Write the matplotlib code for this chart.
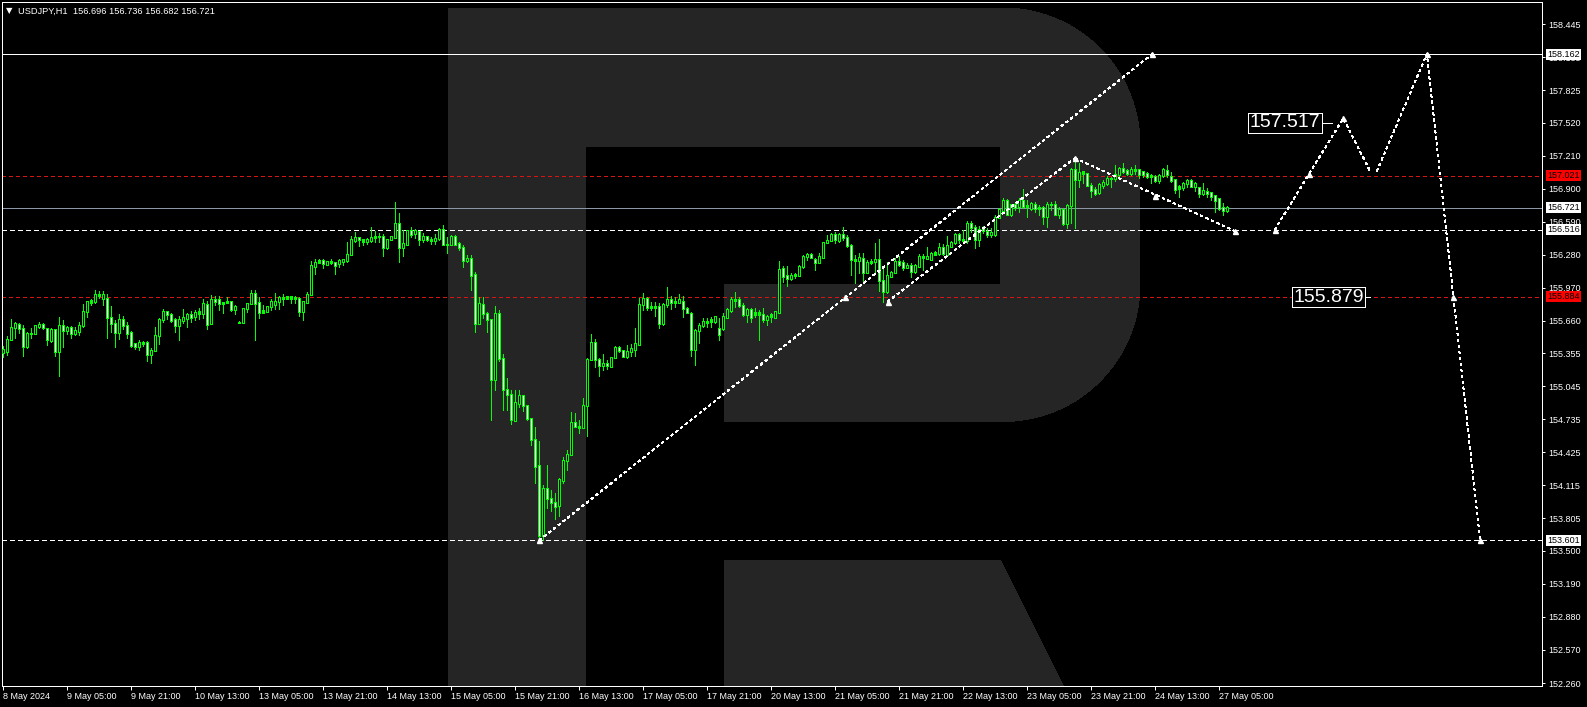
import matplotlib
matplotlib.use("Agg")
import matplotlib.pyplot as plt
import matplotlib.transforms as mtransforms
from matplotlib import font_manager
from matplotlib.patches import Polygon
import numpy as np

# USDJPY H1 candles, 8 May 13:00 .. 27 May 08:00
opens = [
    155.360, 155.370, 155.485, 155.595, 155.626, 155.589, 155.417, 155.542, 155.542, 155.604,
    155.629, 155.589, 155.479, 155.579, 155.370, 155.620, 155.567, 155.592, 155.536, 155.557,
    155.614, 155.745, 155.830, 155.836, 155.911, 155.870, 155.870, 155.692, 155.636, 155.548,
    155.676, 155.620, 155.554, 155.442, 155.417, 155.460, 155.460, 155.345, 155.379, 155.523,
    155.673, 155.748, 155.723, 155.667, 155.614, 155.661, 155.679, 155.714, 155.698, 155.729,
    155.729, 155.817, 155.636, 155.864, 155.855, 155.823, 155.833, 155.845, 155.767, 155.642,
    155.645, 155.773, 155.820, 155.917, 155.833, 155.736, 155.748, 155.792, 155.817, 155.836,
    155.870, 155.886, 155.870, 155.880, 155.870, 155.745, 155.833, 155.905, 156.167, 156.205,
    156.221, 156.192, 156.214, 156.205, 156.199, 156.217, 156.224, 156.283, 156.411, 156.443,
    156.418, 156.402, 156.411, 156.440, 156.455, 156.455, 156.346, 156.424, 156.440, 156.574,
    156.349, 156.380, 156.505, 156.480, 156.499, 156.424, 156.449, 156.424, 156.411, 156.430,
    156.518, 156.377, 156.377, 156.455, 156.386, 156.349, 156.224, 156.246, 156.096, 155.636,
    155.814, 155.729, 155.667, 155.110, 155.729, 155.307, 155.016, 154.972, 154.728, 154.885,
    154.963, 154.860, 154.744, 154.547, 154.297, 153.643, 154.087, 153.993, 153.956, 153.924,
    154.165, 154.347, 154.400, 154.707, 154.672, 154.660, 154.869, 155.298, 155.457, 155.292,
    155.238, 155.260, 155.235, 155.317, 155.410, 155.379, 155.323, 155.376, 155.392, 155.439,
    155.808, 155.870, 155.786, 155.798, 155.798, 155.636, 155.808, 155.855, 155.839, 155.833,
    155.839, 155.776, 155.729, 155.392, 155.567, 155.620, 155.657, 155.657, 155.657, 155.589,
    155.589, 155.692, 155.754, 155.864, 155.864, 155.807, 155.714, 155.761, 155.723, 155.735,
    155.723, 155.673, 155.698, 155.689, 155.735, 156.151, 156.080, 156.058, 156.080, 156.089,
    156.167, 156.261, 156.283, 156.236, 156.205, 156.255, 156.392, 156.417, 156.471, 156.417,
    156.471, 156.443, 156.364, 156.239, 156.230, 156.245, 156.114, 156.205, 156.214, 156.239,
    156.042, 155.933, 156.073, 156.111, 156.220, 156.208, 156.161, 156.183, 156.120, 156.173,
    156.267, 156.245, 156.239, 156.286, 156.292, 156.349, 156.286, 156.361, 156.392, 156.471,
    156.427, 156.411, 156.574, 156.537, 156.424, 156.528, 156.496, 156.465, 156.465, 156.631,
    156.693, 156.793, 156.653, 156.747, 156.731, 156.793, 156.731, 156.715, 156.753, 156.725,
    156.722, 156.637, 156.753, 156.753, 156.653, 156.706, 156.574, 156.740, 157.081, 156.981,
    157.044, 157.044, 156.934, 156.894, 156.862, 156.934, 156.950, 156.997, 156.991, 157.037,
    157.091, 157.069, 157.044, 157.075, 157.075, 157.059, 157.044, 157.025, 157.012, 156.975,
    157.019, 157.066, 157.012, 156.981, 156.903, 156.912, 156.950, 156.975, 156.919, 156.909,
    156.856, 156.872, 156.862, 156.831, 156.803, 156.725, 156.696,
]
highs = [
    155.423, 155.517, 155.673, 155.651, 155.642, 155.620, 155.557, 155.589, 155.620, 155.645,
    155.642, 155.595, 155.589, 155.579, 155.698, 155.667, 155.611, 155.611, 155.604, 155.651,
    155.817, 155.845, 155.867, 155.949, 155.939, 155.939, 155.911, 155.798, 155.667, 155.723,
    155.704, 155.651, 155.567, 155.454, 155.479, 155.470, 155.470, 155.401, 155.604, 155.682,
    155.770, 155.754, 155.736, 155.682, 155.704, 155.773, 155.733, 155.754, 155.761, 155.776,
    155.864, 155.848, 155.902, 155.892, 155.889, 155.833, 155.880, 155.845, 155.808, 155.658,
    155.783, 155.830, 155.949, 155.949, 155.886, 155.808, 155.801, 155.864, 155.917, 155.892,
    155.908, 155.892, 155.892, 155.892, 155.880, 155.839, 155.927, 156.221, 156.236, 156.239,
    156.239, 156.224, 156.239, 156.214, 156.239, 156.239, 156.402, 156.455, 156.496, 156.449,
    156.424, 156.440, 156.537, 156.499, 156.487, 156.471, 156.430, 156.455, 156.774, 156.668,
    156.512, 156.512, 156.537, 156.518, 156.505, 156.480, 156.458, 156.449, 156.474, 156.527,
    156.559, 156.449, 156.465, 156.465, 156.396, 156.371, 156.277, 156.277, 156.120, 155.880,
    155.880, 155.745, 155.673, 155.798, 155.761, 155.348, 155.119, 155.010, 155.010, 155.010,
    154.963, 154.860, 154.744, 154.666, 154.534, 154.118, 154.306, 154.071, 154.040, 154.181,
    154.384, 154.447, 154.807, 154.797, 154.728, 154.932, 155.307, 155.536, 155.489, 155.313,
    155.348, 155.292, 155.323, 155.423, 155.423, 155.385, 155.432, 155.442, 155.589, 155.870,
    155.917, 155.886, 155.839, 155.839, 155.830, 155.823, 155.973, 155.892, 155.886, 155.911,
    155.892, 155.792, 155.745, 155.579, 155.636, 155.682, 155.682, 155.698, 155.704, 155.682,
    155.729, 155.776, 155.886, 155.933, 155.886, 155.823, 155.776, 155.776, 155.776, 155.761,
    155.776, 155.714, 155.729, 155.754, 156.223, 156.173, 156.173, 156.105, 156.111, 156.180,
    156.277, 156.299, 156.292, 156.245, 156.292, 156.402, 156.464, 156.480, 156.496, 156.486,
    156.536, 156.464, 156.377, 156.277, 156.292, 156.292, 156.230, 156.236, 156.392, 156.427,
    156.151, 156.214, 156.130, 156.245, 156.267, 156.230, 156.198, 156.198, 156.192, 156.286,
    156.286, 156.349, 156.308, 156.317, 156.386, 156.380, 156.458, 156.408, 156.480, 156.480,
    156.511, 156.600, 156.600, 156.559, 156.550, 156.550, 156.528, 156.528, 156.653, 156.715,
    156.809, 156.800, 156.756, 156.762, 156.809, 156.894, 156.793, 156.778, 156.778, 156.747,
    156.737, 156.778, 156.778, 156.787, 156.725, 156.715, 156.756, 157.091, 157.194, 157.138,
    157.069, 157.050, 156.956, 156.912, 156.950, 156.981, 157.019, 157.006, 157.122, 157.106,
    157.138, 157.084, 157.106, 157.122, 157.084, 157.069, 157.059, 157.037, 157.028, 157.037,
    157.091, 157.122, 157.059, 156.991, 156.934, 156.966, 156.987, 156.987, 156.966, 156.919,
    156.950, 156.903, 156.872, 156.840, 156.809, 156.768, 156.736,
]
lows = [
    155.323, 155.338, 155.479, 155.495, 155.542, 155.332, 155.401, 155.495, 155.536, 155.589,
    155.586, 155.432, 155.464, 155.329, 155.144, 155.417, 155.536, 155.501, 155.526, 155.526,
    155.604, 155.698, 155.808, 155.823, 155.870, 155.808, 155.501, 155.557, 155.417, 155.489,
    155.579, 155.501, 155.410, 155.398, 155.385, 155.426, 155.285, 155.260, 155.373, 155.442,
    155.651, 155.673, 155.651, 155.557, 155.479, 155.642, 155.604, 155.651, 155.667, 155.673,
    155.682, 155.586, 155.626, 155.808, 155.761, 155.736, 155.823, 155.754, 155.723, 155.636,
    155.642, 155.742, 155.814, 155.479, 155.686, 155.729, 155.742, 155.761, 155.770, 155.767,
    155.808, 155.861, 155.830, 155.830, 155.704, 155.667, 155.830, 155.898, 156.099, 156.199,
    156.155, 156.183, 156.192, 156.099, 156.161, 156.180, 156.214, 156.277, 156.402, 156.365,
    156.371, 156.380, 156.402, 156.402, 156.402, 156.268, 156.330, 156.418, 156.440, 156.214,
    156.268, 156.371, 156.449, 156.433, 156.371, 156.402, 156.411, 156.380, 156.380, 156.418,
    156.371, 156.293, 156.371, 156.371, 156.324, 156.167, 156.214, 155.949, 155.557, 155.626,
    155.682, 155.557, 154.728, 155.010, 155.285, 154.822, 154.822, 154.688, 154.728, 154.854,
    154.816, 154.728, 154.494, 154.140, 153.601, 153.601, 153.899, 153.877, 153.796, 153.827,
    154.134, 154.259, 154.400, 154.660, 154.603, 154.650, 154.578, 155.292, 155.223, 155.141,
    155.198, 155.204, 155.229, 155.307, 155.370, 155.317, 155.307, 155.332, 155.332, 155.432,
    155.761, 155.761, 155.761, 155.707, 155.589, 155.620, 155.792, 155.767, 155.792, 155.823,
    155.698, 155.729, 155.329, 155.245, 155.448, 155.604, 155.604, 155.598, 155.642, 155.479,
    155.573, 155.682, 155.745, 155.792, 155.792, 155.704, 155.651, 155.651, 155.698, 155.479,
    155.651, 155.620, 155.651, 155.682, 155.729, 156.026, 155.986, 156.042, 156.058, 156.080,
    156.151, 156.230, 156.245, 156.136, 156.198, 156.245, 156.386, 156.411, 156.386, 156.402,
    156.417, 156.355, 156.089, 156.017, 156.111, 156.026, 156.105, 156.192, 156.120, 155.942,
    155.833, 155.917, 156.067, 156.105, 156.173, 156.136, 156.151, 156.067, 156.111, 156.161,
    156.136, 156.236, 156.230, 156.277, 156.277, 156.277, 156.277, 156.355, 156.380, 156.386,
    156.402, 156.387, 156.496, 156.340, 156.365, 156.487, 156.449, 156.449, 156.456, 156.621,
    156.668, 156.653, 156.643, 156.700, 156.684, 156.715, 156.637, 156.700, 156.684, 156.653,
    156.568, 156.543, 156.700, 156.653, 156.621, 156.559, 156.528, 156.574, 156.534, 156.912,
    156.950, 156.925, 156.819, 156.840, 156.850, 156.903, 156.934, 156.912, 156.975, 157.019,
    157.050, 157.028, 157.028, 157.037, 156.997, 157.012, 156.997, 156.956, 156.966, 156.956,
    157.006, 157.012, 156.966, 156.856, 156.819, 156.887, 156.912, 156.912, 156.881, 156.819,
    156.840, 156.825, 156.793, 156.684, 156.700, 156.653, 156.682,
]
closes = [
    155.392, 155.485, 155.598, 155.636, 155.586, 155.417, 155.542, 155.536, 155.611, 155.626,
    155.595, 155.485, 155.579, 155.370, 155.620, 155.567, 155.595, 155.542, 155.564, 155.620,
    155.748, 155.836, 155.848, 155.911, 155.895, 155.911, 155.692, 155.636, 155.548, 155.676,
    155.614, 155.542, 155.432, 155.417, 155.457, 155.442, 155.345, 155.385, 155.523, 155.673,
    155.748, 155.720, 155.661, 155.614, 155.667, 155.686, 155.714, 155.695, 155.739, 155.745,
    155.823, 155.626, 155.864, 155.845, 155.823, 155.833, 155.845, 155.767, 155.792, 155.639,
    155.776, 155.823, 155.920, 155.823, 155.736, 155.754, 155.798, 155.836, 155.842, 155.877,
    155.880, 155.870, 155.886, 155.870, 155.745, 155.836, 155.908, 156.174, 156.211, 156.221,
    156.199, 156.214, 156.205, 156.183, 156.224, 156.236, 156.286, 156.418, 156.443, 156.418,
    156.402, 156.424, 156.443, 156.455, 156.449, 156.349, 156.424, 156.449, 156.574, 156.349,
    156.386, 156.505, 156.471, 156.505, 156.418, 156.455, 156.427, 156.411, 156.433, 156.518,
    156.377, 156.374, 156.455, 156.380, 156.349, 156.224, 156.246, 156.083, 155.636, 155.823,
    155.729, 155.667, 155.110, 155.729, 155.301, 155.016, 154.972, 154.735, 154.894, 154.963,
    154.869, 154.741, 154.547, 154.290, 153.643, 154.087, 153.993, 153.953, 153.915, 154.172,
    154.353, 154.409, 154.707, 154.666, 154.660, 154.869, 155.298, 155.457, 155.292, 155.238,
    155.260, 155.238, 155.317, 155.410, 155.379, 155.323, 155.370, 155.395, 155.442, 155.814,
    155.870, 155.786, 155.798, 155.786, 155.636, 155.814, 155.861, 155.833, 155.830, 155.855,
    155.776, 155.739, 155.392, 155.573, 155.620, 155.657, 155.642, 155.667, 155.698, 155.535,
    155.698, 155.761, 155.864, 155.854, 155.801, 155.714, 155.761, 155.689, 155.735, 155.723,
    155.673, 155.704, 155.714, 155.745, 156.142, 156.073, 156.058, 156.089, 156.098, 156.173,
    156.267, 156.283, 156.255, 156.205, 156.261, 156.392, 156.417, 156.471, 156.424, 156.471,
    156.443, 156.364, 156.236, 156.230, 156.255, 156.114, 156.208, 156.220, 156.239, 156.036,
    155.933, 156.083, 156.114, 156.220, 156.192, 156.158, 156.183, 156.120, 156.183, 156.267,
    156.255, 156.267, 156.292, 156.302, 156.349, 156.292, 156.367, 156.396, 156.471, 156.424,
    156.411, 156.574, 156.537, 156.418, 156.512, 156.506, 156.474, 156.487, 156.631, 156.700,
    156.793, 156.659, 156.747, 156.725, 156.793, 156.731, 156.737, 156.756, 156.715, 156.715,
    156.637, 156.753, 156.747, 156.659, 156.706, 156.574, 156.743, 157.081, 156.981, 157.050,
    157.059, 156.928, 156.881, 156.856, 156.941, 156.956, 156.997, 156.991, 157.037, 157.091,
    157.059, 157.044, 157.081, 157.066, 157.028, 157.028, 157.012, 157.012, 156.975, 157.022,
    157.075, 157.028, 156.975, 156.894, 156.919, 156.950, 156.975, 156.919, 156.950, 156.856,
    156.881, 156.850, 156.825, 156.793, 156.709, 156.693, 156.721,
]

date_labels = ["8 May 2024", "9 May 05:00", "9 May 21:00", "10 May 13:00", "13 May 05:00",
               "13 May 21:00", "14 May 13:00", "15 May 05:00", "15 May 21:00", "16 May 13:00",
               "17 May 05:00", "17 May 21:00", "20 May 13:00", "21 May 05:00", "21 May 21:00",
               "22 May 13:00", "23 May 05:00", "23 May 21:00", "24 May 13:00", "27 May 05:00"]
bars_per_label = 16

price_ticks = [158.445, 158.135, 157.825, 157.520, 157.210, 156.900, 156.590, 156.280,
               155.970, 155.660, 155.355, 155.045, 154.735, 154.425, 154.115, 153.805,
               153.500, 153.190, 152.880, 152.570, 152.260]

resistance = 158.162
pivot = 156.516
support = 153.601
red_levels = [157.021, 155.884]

# forecast drawing (bar index, price)
channel_up_x = [134.05, 287.2]
channel_up_y = [153.601, 158.162]
channel_lo_x = [221.1, 267.9]
channel_lo_y = [155.840, 157.187]
fc_a_x = [267.9, 308.0]
fc_a_y = [157.187, 156.500]
fc_b_x = [317.9, 335.0, 341.7]
fc_b_y = [156.516, 157.560, 157.065]
fc_c_x = [343.4, 355.9, 369.2]
fc_c_y = [157.065, 158.162, 153.601]
marker_x = [134.05, 210.4, 221.1, 267.9, 287.2, 288.0, 308.0, 317.9, 326.5, 335.0, 355.9, 362.5, 369.2]
marker_y = [153.601, 155.884, 155.840, 157.187, 158.162, 156.834, 156.500, 156.516, 157.035,
            157.560, 158.162, 155.879, 153.601]
target_values = [157.517, 155.879]
target_bars = [320.35, 331.35]
target_tick_x = [(329.7, 332.2), (340.7, 341.8)]

# ---- style ----
names = {f.name for f in font_manager.fontManager.ttflist}
narrow = 'Liberation Sans Narrow' if 'Liberation Sans Narrow' in names else 'Liberation Sans'
small = 7.5 if narrow == 'Liberation Sans Narrow' else 6.5
plt.rcParams['font.family'] = [narrow, 'DejaVu Sans']
plt.rcParams['lines.antialiased'] = False
plt.rcParams['patch.antialiased'] = False
plt.rcParams['lines.scale_dashes'] = False

PX = 0.72  # one pixel in points at 100 dpi
GREEN = '#00ff00'
RED = '#d81414'
W, H = 1587, 707
fig = plt.figure(figsize=(W / 100, H / 100), dpi=100, facecolor='black')
ax = fig.add_axes([2 / W, 21 / H, 1540 / W, 684 / H])
ax.set_facecolor('black')
ax.set_xlim(-0.325, 384.68)
ax.set_ylim(152.232, 158.6515)
price_per_px = (158.6515 - 152.232) / 684

# watermark "R" in the background (figure pixels)
px = mtransforms.Affine2D().scale(1 / W, -1 / H).translate(0, 1) + fig.transFigure


def arc(cx, cy, r, a0, a1, n=30):
    t = np.radians(np.linspace(a0, a1, n))
    return list(zip(cx + r * np.cos(t), cy + r * np.sin(t)))


r = 137
bowl = ([(448, 8), (1003, 8)] + arc(1003, 145, r, -90, 0) + [(1140, 284.5)]
        + arc(1003, 284.5, r, 0, 90)
        + [(724, 421.5), (724, 284), (1000, 284), (1000, 146.5), (586, 146.5), (586, 700), (448, 700)])
leg = [(724, 560.4), (1000.5, 560.4), (1070, 700), (724, 700)]
for pts in (bowl, leg):
    ax.add_patch(Polygon(pts, closed=True, transform=px, facecolor='#252525',
                         edgecolor='none', zorder=0.5))

# horizontal levels
ax.axhline(resistance, color='white', lw=PX, zorder=2)
ax.axhline(closes[-1], color='#8a97a6', lw=PX, zorder=2)
for lvl in (pivot, support):
    ax.axhline(lvl, color='white', lw=PX, ls=(0, (3.0, 2.2)), zorder=2)
for lvl in red_levels:
    ax.axhline(lvl, color=RED, lw=PX, ls=(0, (2.8, 2.5)), zorder=2)

# candles: 1px wick, 3px body outline, 1px inner fill (black = up, white = down)
x = np.arange(len(opens))
o, h, l, c = (np.array(v) for v in (opens, highs, lows, closes))
top = np.maximum(o, c)
bot = np.minimum(o, c)
ax.vlines(x, l, h, colors=GREEN, linewidth=PX, zorder=3)
ax.vlines(x, bot - price_per_px * 0.5, top + price_per_px * 0.5, colors=GREEN,
          linewidth=3 * PX, zorder=4)
inner = (top - bot) > 2 * price_per_px
fills = np.where(c >= o, 'black', 'white')
ax.vlines(x[inner], bot[inner] + price_per_px * 0.5, top[inner] - price_per_px * 0.5,
          colors=list(fills[inner]), linewidth=PX, zorder=5)

# forecast paths
dots = dict(color='white', lw=PX, ls=(0, (1.6, 2.6)), zorder=6)
for xs, ys in ((channel_up_x, channel_up_y), (channel_lo_x, channel_lo_y),
               (fc_a_x, fc_a_y), (fc_b_x, fc_b_y), (fc_c_x, fc_c_y)):
    ax.plot(xs, ys, **dots)
ax.plot(marker_x, marker_y, ls='none', marker='^', ms=3.6, color='white', mec='white', zorder=7)

for val, bx, (t0, t1) in zip(target_values, target_bars, target_tick_x):
    ax.text(bx, val, f'{val:.3f}', color='white', fontsize=14, family='Liberation Sans',
            ha='center', va='center', zorder=8,
            bbox=dict(boxstyle='square,pad=0.08', fc='black', ec='white', lw=PX))
    ax.plot([t0, t1], [val, val], color='white', lw=PX, zorder=8)

# axes frame and ticks
for sp in ax.spines.values():
    sp.set_color('white')
    sp.set_linewidth(PX)
ax.yaxis.tick_right()
ax.set_yticks(price_ticks)
ax.set_yticklabels([f'{v:.3f}' for v in price_ticks])
ax.tick_params(axis='y', direction='out', length=2.5, width=PX, colors='white',
               labelsize=small, pad=2)
tick_bars = np.arange(len(date_labels)) * bars_per_label
ax.set_xticks(tick_bars)
ax.set_xticklabels(date_labels)
for lbl in ax.get_xticklabels():
    lbl.set_ha('left')
ax.tick_params(axis='x', direction='out', length=3, width=PX, colors='white',
               labelsize=small, pad=1.5)

# price boxes on the right scale
edge = mtransforms.blended_transform_factory(ax.transAxes, ax.transData)
boxes = [(resistance, 'white'), (red_levels[0], '#ff0000'), (closes[-1], 'white'),
         (pivot, 'white'), (red_levels[1], '#ff0000'), (support, 'white')]
for val, col in boxes:
    ax.text(1.0035, val, f'{val:.3f}', transform=edge, color='black', fontsize=small,
            ha='left', va='center', zorder=9, clip_on=False,
            bbox=dict(boxstyle='square,pad=0.12', fc=col, ec='none'))

# title
fig.text(6 / W, 1 - 11 / H, '\u25bc', color='white', fontsize=6, family='DejaVu Sans', va='center')
fig.text(18 / W, 1 - 11 / H,
         f'USDJPY,H1  {opens[-1]:.3f} {highs[-1]:.3f} {lows[-1]:.3f} {closes[-1]:.3f}',
         color='white', fontsize=small + 0.2, va='center')

fig.savefig('out.png', dpi=100, facecolor='black')
